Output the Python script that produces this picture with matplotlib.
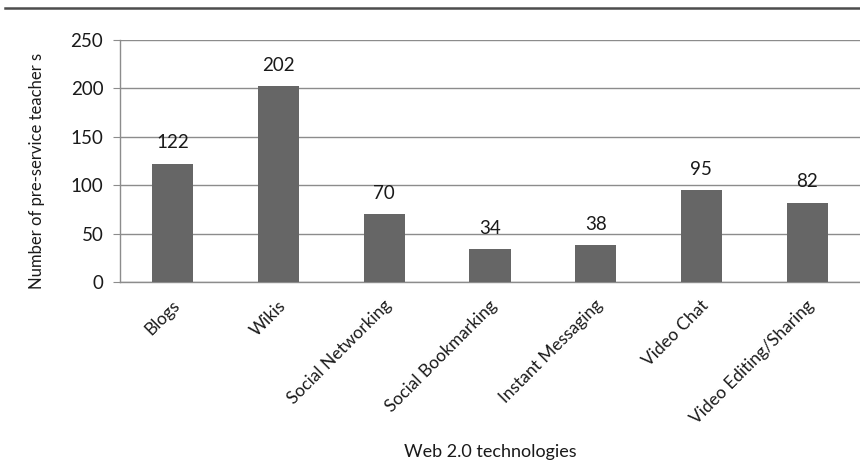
import matplotlib
matplotlib.use("Agg")
import matplotlib.pyplot as plt
from matplotlib.lines import Line2D

categories = ["Blogs", "Wikis", "Social Networking", "Social Bookmarking",
              "Instant Messaging", "Video Chat", "Video Editing/Sharing"]
values = [122, 202, 70, 34, 38, 95, 82]
yticks = [0, 50, 100, 150, 200, 250]

plt.rcParams['font.family'] = ['Lato', 'DejaVu Sans']

W, H = 860, 473
fig = plt.figure(figsize=(W / 100, H / 100), dpi=100)
ax = fig.add_axes([120 / W, 1 - 282 / H, 740 / W, 242 / H])

x = list(range(len(categories)))
ax.bar(x, values, width=0.39, color="#666666", zorder=3)
for xi, v in zip(x, values):
    ax.annotate(str(v), (xi, v), xytext=(0, 9), textcoords="offset points",
                ha="center", va="bottom", fontsize=13.5, color="#1a1a1a")

ax.set_xlim(-0.5, len(categories) - 0.5)
ax.set_ylim(0, 250)
ax.set_yticks(yticks)
ax.set_yticklabels([str(t) for t in yticks], fontsize=13.5, color="#1a1a1a")
ax.yaxis.grid(True, color="#8c8c8c", linewidth=1.0, zorder=0)
ax.set_axisbelow(True)
ax.tick_params(axis="y", length=5, color="#8c8c8c", pad=7)
ax.tick_params(axis="x", length=0, pad=11)
ax.set_xticks(x)
ax.set_xticklabels(categories, rotation=45, ha="right", va="top",
                   rotation_mode="anchor", fontsize=12.5, color="#1a1a1a")
for lbl in ax.get_xticklabels():
    lbl.set_transform(lbl.get_transform() + matplotlib.transforms.ScaledTranslation(-1 / 100, 0, fig.dpi_scale_trans))

for s in ["top", "right"]:
    ax.spines[s].set_visible(False)
for s in ["left", "bottom"]:
    ax.spines[s].set_color("#8c8c8c")
    ax.spines[s].set_linewidth(1.0)

fig.text(37 / W, 1 - 171 / H, "Number of pre-service teacher s", rotation=90,
         ha="center", va="center", fontsize=12, color="#1a1a1a")
fig.text(490 / W, 1 - 452 / H, "Web 2.0 technologies", ha="center",
         va="center", fontsize=13, color="#1a1a1a")

fig.add_artist(Line2D([5 / W, 1.0], [1 - 8.5 / H, 1 - 8.5 / H],
                      transform=fig.transFigure, color="#4d4d4d", linewidth=1.8))

fig.savefig("out.png", dpi=100)
